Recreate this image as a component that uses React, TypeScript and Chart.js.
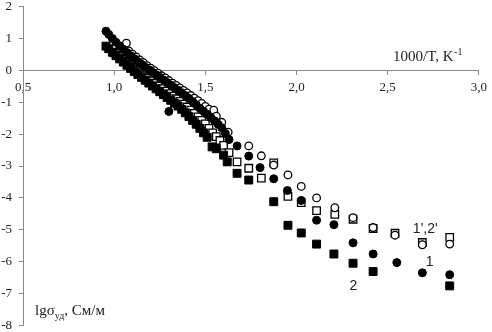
import React, { useEffect, useRef } from "react";
import { Chart, registerables } from "chart.js";

Chart.register(...registerables);

// Series 1 – filled circles
const s1X = [0.955, 0.97, 0.99, 1.01, 1.03, 1.05, 1.07, 1.09, 1.11, 1.13, 1.15, 1.17, 1.19, 1.21, 1.23, 1.25, 1.27, 1.29, 1.31, 1.33, 1.35, 1.37, 1.39, 1.41, 1.43, 1.45, 1.47, 1.49, 1.51, 1.53, 1.55, 1.57, 1.59, 1.61, 1.63, 1.30, 1.674, 1.738, 1.80, 1.875, 1.95, 2.026, 2.11, 2.205, 2.31, 2.42, 2.55, 2.69, 2.84];
const s1Y = [1.23, 1.13, 1.0, 0.88, 0.77, 0.66, 0.56, 0.46, 0.37, 0.28, 0.19, 0.1, 0.02, -0.06, -0.14, -0.22, -0.3, -0.38, -0.46, -0.54, -0.62, -0.7, -0.79, -0.88, -0.98, -1.08, -1.19, -1.28, -1.38, -1.48, -1.58, -1.69, -1.8, -1.98, -2.17, -1.29, -2.37, -2.69, -3.05, -3.4, -3.77, -4.08, -4.7, -4.84, -5.41, -5.76, -6.03, -6.35, -6.41];

// Series 1' – open circles
const s1pX = [1.067, 1.08, 1.1, 1.12, 1.14, 1.16, 1.18, 1.2, 1.22, 1.24, 1.26, 1.28, 1.3, 1.32, 1.34, 1.36, 1.38, 1.4, 1.42, 1.44, 1.46, 1.48, 1.5, 1.52, 1.546, 1.56, 1.59, 1.625, 1.738, 1.807, 1.875, 1.953, 2.026, 2.11, 2.21, 2.31, 2.42, 2.54, 2.69, 2.84];
const s1pY = [0.85, 0.61, 0.51, 0.42, 0.33, 0.24, 0.15, 0.07, -0.01, -0.09, -0.17, -0.24, -0.32, -0.4, -0.47, -0.55, -0.63, -0.71, -0.79, -0.87, -0.95, -1.04, -1.13, -1.22, -1.25, -1.44, -1.63, -1.94, -2.37, -2.68, -2.97, -3.28, -3.64, -4.0, -4.31, -4.62, -4.93, -5.17, -5.47, -5.45];

// Series 2 – filled squares
const s2X = [0.955, 0.97, 0.99, 1.01, 1.03, 1.05, 1.07, 1.09, 1.11, 1.13, 1.15, 1.17, 1.19, 1.21, 1.23, 1.25, 1.27, 1.29, 1.31, 1.33, 1.35, 1.37, 1.39, 1.41, 1.43, 1.45, 1.47, 1.49, 1.51, 1.537, 1.56, 1.6, 1.62, 1.674, 1.738, 1.875, 1.953, 2.026, 2.11, 2.205, 2.31, 2.42, 2.84];
const s2Y = [0.76, 0.68, 0.57, 0.46, 0.36, 0.26, 0.16, 0.06, -0.04, -0.13, -0.22, -0.31, -0.4, -0.49, -0.58, -0.67, -0.76, -0.85, -0.94, -1.03, -1.12, -1.22, -1.33, -1.45, -1.57, -1.69, -1.82, -1.96, -2.1, -2.4, -2.46, -2.66, -2.87, -3.23, -3.44, -4.12, -4.86, -5.1, -5.45, -5.76, -6.05, -6.31, -6.76];

// Series 2' – open squares
const s2pX = [1.0, 1.02, 1.04, 1.06, 1.08, 1.1, 1.12, 1.14, 1.16, 1.18, 1.2, 1.22, 1.24, 1.26, 1.28, 1.3, 1.32, 1.34, 1.36, 1.38, 1.4, 1.42, 1.44, 1.46, 1.48, 1.5, 1.52, 1.54, 1.56, 1.58, 1.6, 1.63, 1.674, 1.738, 1.807, 1.875, 1.953, 2.026, 2.11, 2.21, 2.31, 2.42, 2.54, 2.69, 2.84];
const s2pY = [0.55, 0.47, 0.37, 0.28, 0.19, 0.1, 0.01, -0.08, -0.17, -0.25, -0.33, -0.41, -0.49, -0.57, -0.65, -0.73, -0.81, -0.89, -0.97, -1.06, -1.15, -1.25, -1.35, -1.46, -1.57, -1.68, -1.82, -1.96, -2.08, -2.2, -2.35, -2.58, -2.87, -3.07, -3.38, -2.9, -3.95, -4.15, -4.4, -4.52, -4.67, -4.96, -5.11, -5.4, -5.24];

const xTickValues = [0.5, 1.0, 1.5, 2.0, 2.5, 3.0];
const yTickValues = [2, 1, 0, -1, -2, -3, -4, -5, -6, -7, -8];

const SERIF = '"Liberation Serif", "Times New Roman", serif';
const SANS = '"Liberation Sans", Arial, sans-serif';

const toPts = (xs: number[], ys: number[]) => xs.map((x, i) => ({ x, y: ys[i] }));

const textPlugin = {
  id: "texts",
  afterDraw(chart: any) {
    const { ctx } = chart;
    const xs = chart.scales.x;
    const ys = chart.scales.y;
    ctx.save();
    ctx.fillStyle = "#222";
    ctx.textBaseline = "alphabetic";
    ctx.textAlign = "left";
    // x title
    ctx.font = `15px ${SERIF}`;
    const xt = "1000/T, K";
    ctx.fillText(xt, 393, 61);
    const w = ctx.measureText(xt).width;
    ctx.font = `10px ${SERIF}`;
    ctx.fillText("-1", 393 + w + 0.5, 55);
    // y title, compressed to the reference width
    const parts = [
      { t: "lgσ", f: `15px ${SERIF}`, dy: 0 },
      { t: "уд", f: `10px ${SERIF}`, dy: 4 },
      { t: ", См/м", f: `15px ${SERIF}`, dy: 0 },
    ];
    let total = 0;
    parts.forEach((p) => {
      ctx.font = p.f;
      total += ctx.measureText(p.t).width;
    });
    const sx = 70 / total;
    ctx.save();
    ctx.translate(35, 315);
    ctx.scale(sx, 1);
    let px = 0;
    parts.forEach((p) => {
      ctx.font = p.f;
      ctx.fillText(p.t, px, p.dy);
      px += ctx.measureText(p.t).width;
    });
    ctx.restore();
    // curve labels
    ctx.font = `14px ${SANS}`;
    ctx.textAlign = "center";
    ctx.textBaseline = "middle";
    ctx.fillText("1',2'", xs.getPixelForValue(2.706), ys.getPixelForValue(-4.99));
    ctx.fillText("1", xs.getPixelForValue(2.73), ys.getPixelForValue(-6.02));
    ctx.fillText("2", xs.getPixelForValue(2.312), ys.getPixelForValue(-6.76));
    ctx.restore();
  },
};

export default function App() {
  const ref = useRef<HTMLCanvasElement>(null);
  useEffect(() => {
    if (!ref.current) return;
    const filled = { backgroundColor: "#000", borderColor: "#000", borderWidth: 1 };
    const open = { backgroundColor: "#fff", borderColor: "#000", borderWidth: 1.3 };
    const chart = new Chart(ref.current, {
      type: "scatter",
      data: {
        datasets: [
          { label: "1", data: toPts(s1X, s1Y), pointStyle: "circle", pointRadius: 4, order: 0, ...filled },
          { label: "1'", data: toPts(s1pX, s1pY), pointStyle: "circle", pointRadius: 3.8, order: 1, ...open },
          { label: "2", data: toPts(s2X, s2Y), pointStyle: "rect", pointRadius: 5.6, order: 2, ...filled },
          { label: "2'", data: toPts(s2pX, s2pY), pointStyle: "rect", pointRadius: 5.3, order: 3, ...open },
        ],
      },
      options: {
        animation: false,
        responsive: false,
        layout: { padding: { left: 0, right: 10, top: 5, bottom: 5 } },
        plugins: { legend: { display: false }, tooltip: { enabled: false } },
        scales: {
          x: {
            type: "linear",
            position: { y: 0 },
            min: 0.5,
            max: 3.0,
            afterBuildTicks: (s: any) => {
              s.ticks = xTickValues.map((v) => ({ value: v }));
            },
            ticks: {
              color: "#222",
              font: { family: SERIF, size: 13 },
              padding: 5,
              maxRotation: 0,
              callback: (v: any) => Number(v).toFixed(1).replace(".", ","),
            },
            grid: { drawOnChartArea: false, drawTicks: true, tickLength: 4, color: "#888" },
            border: { color: "#888", width: 1 },
          },
          y: {
            type: "linear",
            position: "left",
            min: -8,
            max: 2,
            afterBuildTicks: (s: any) => {
              s.ticks = yTickValues.map((v) => ({ value: v }));
            },
            afterFit: (s: any) => {
              s.width = 23;
              s.paddingTop = 0;
              s.paddingBottom = 0;
            },
            ticks: {
              color: "#222",
              font: { family: SERIF, size: 13 },
              padding: 7,
              callback: (v: any) => String(v),
            },
            grid: { drawOnChartArea: false, drawTicks: true, tickLength: 4, color: "#888" },
            border: { color: "#888", width: 1 },
          },
        },
      },
      plugins: [textPlugin],
    });
    return () => chart.destroy();
  }, []);
  return (
    <div style={{ position: "fixed", left: 0, top: 0, width: 492, height: 332, background: "#fff" }}>
      <canvas ref={ref} width={492} height={332} style={{ display: "block" }} />
    </div>
  );
}
